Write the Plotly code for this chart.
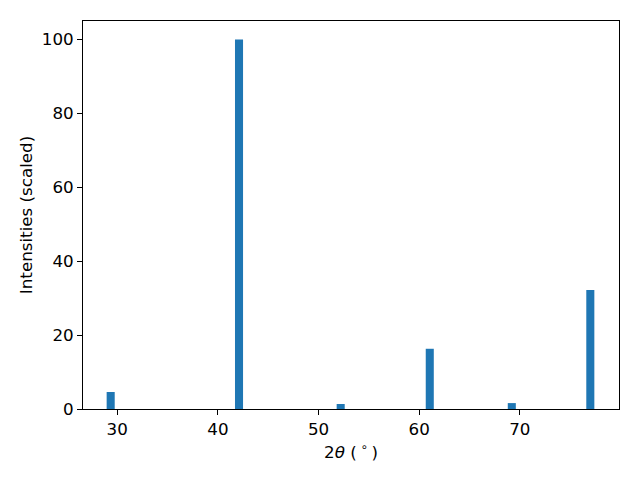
import plotly.graph_objects as go

two_theta = [29.35, 42.1, 52.2, 61.05, 69.2, 77.0]
intensity = [4.6, 100.0, 1.35, 16.3, 1.6, 32.2]
bar_width = 0.8
x_ticks = [30, 40, 50, 60, 70]
y_ticks = [0, 20, 40, 60, 80, 100]

fig = go.Figure()
fig.add_trace(go.Bar(x=two_theta, y=intensity, width=[bar_width] * len(two_theta),
                     marker=dict(color="#1f77b4", line=dict(width=0))))

font = dict(family="DejaVu Sans", size=16.7, color="black")
axis_common = dict(showline=True, linecolor="black", linewidth=1, mirror=True,
                   ticks="outside", ticklen=5, tickwidth=1, tickcolor="black",
                   showgrid=False, zeroline=False, tickfont=font)
fig.update_xaxes(range=[26.6, 79.85], tickvals=x_ticks,
                 title=dict(text="2<i>θ</i> (<sup> ∘ </sup>)", font=font, standoff=8),
                 **axis_common)
fig.update_yaxes(range=[0, 105], tickvals=y_ticks,
                 title=dict(text="Intensities (scaled)", font=font, standoff=4),
                 **axis_common)
fig.update_layout(width=640, height=480, plot_bgcolor="white", paper_bgcolor="white",
                  margin=dict(l=75, r=29, t=13, b=79), showlegend=False, font=font)
fig.write_html("out.html")
